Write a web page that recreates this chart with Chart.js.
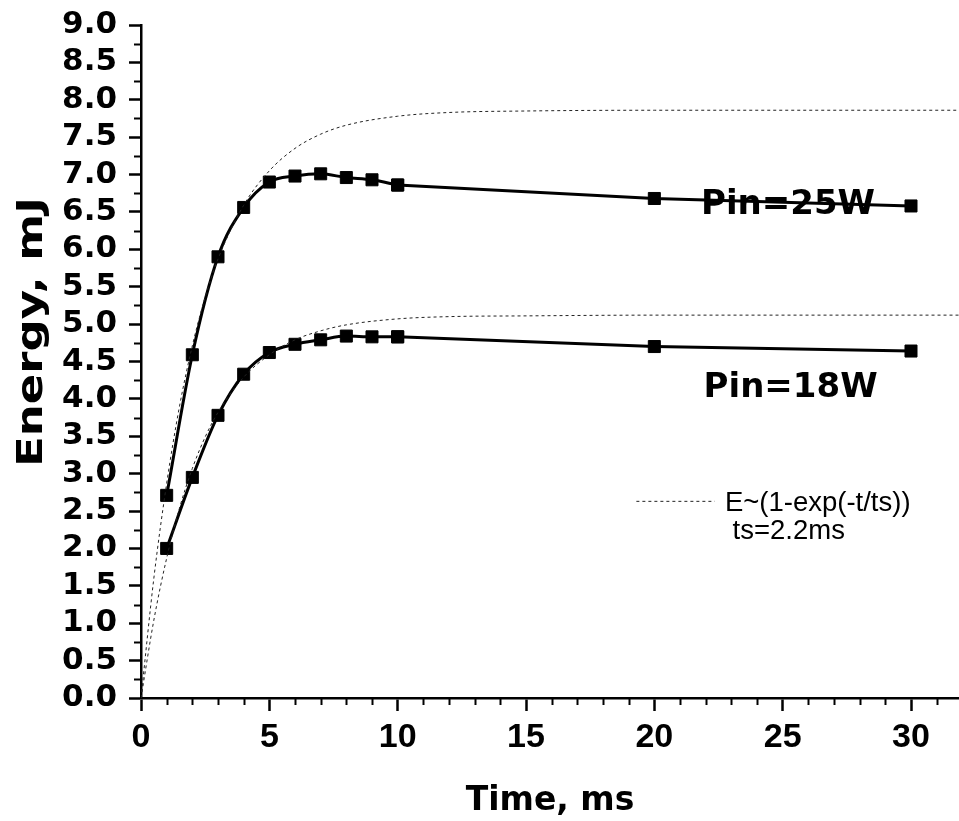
<!DOCTYPE html>
<html><head><meta charset="utf-8">
<script src="https://cdn.jsdelivr.net/npm/chart.js@4/dist/chart.umd.min.js"></script>
<style>html,body{margin:0;padding:0;background:#fff}#wrap{width:959px;height:821px}</style>
</head><body><div id="wrap"><canvas id="c" width="959" height="821"></canvas></div>
<script>
// ---- data ----
const times    = [1, 2, 3, 4, 5, 6, 7, 8, 9, 10, 20, 30];
const energy25 = [2.71, 4.59, 5.90, 6.56, 6.90, 6.98, 7.01, 6.96, 6.93, 6.86, 6.68, 6.58];
const energy18 = [2.00, 2.95, 3.78, 4.33, 4.62, 4.73, 4.79, 4.84, 4.83, 4.83, 4.70, 4.64];

const fitTimes = [0, 0.5, 1, 1.5, 2, 2.5, 3, 4, 5, 6, 7, 8, 10, 12, 15, 20, 31.9];
const fit25    = [0, 1.60, 2.87, 3.90, 4.71, 5.36, 5.87, 6.59, 7.05, 7.35, 7.54, 7.66, 7.78, 7.83, 7.85, 7.86, 7.86];
const fit18    = [0, 1.04, 1.87, 2.54, 3.07, 3.49, 3.82, 4.29, 4.59, 4.79, 4.91, 4.99, 5.07, 5.10, 5.11, 5.12, 5.12];

const xTickValues = [0, 5, 10, 15, 20, 25, 30];
const xTickLabels = ['0', '5', '10', '15', '20', '25', '30'];
const yTickValues = [0, 0.5, 1, 1.5, 2, 2.5, 3, 3.5, 4, 4.5, 5, 5.5, 6, 6.5, 7, 7.5, 8, 8.5, 9];
const yTickLabels = ['0.0','0.5','1.0','1.5','2.0','2.5','3.0','3.5','4.0','4.5','5.0','5.5','6.0','6.5','7.0','7.5','8.0','8.5','9.0'];

const seriesLabels = ['Pin=25W', 'Pin=18W'];
const legendLines = ['E~(1-exp(-t/ts))', 'ts=2.2ms'];
const xTitle = 'Time, ms';
const yTitle = 'Energy, mJ';

const pts = (xs, ys) => xs.map((x, i) => ({x, y: ys[i]}));
const SPLIT = 10; // index of t=10: smooth curve before, straight segments after

const decor = {
  id: 'decor',
  afterDraw(chart) {
    const ctx = chart.ctx, xs = chart.scales.x, ys = chart.scales.y;
    ctx.save();
    ctx.strokeStyle = '#000';
    ctx.lineWidth = 2;
    // minor ticks
    for (let v = 1; v <= 31; v++) {
      if (v % 5 === 0) continue;
      const px = Math.round(xs.getPixelForValue(v)) + 0.5;
      ctx.beginPath(); ctx.moveTo(px, ys.bottom); ctx.lineTo(px, ys.bottom + 7); ctx.stroke();
    }
    for (let k = 1; k < 36; k += 2) {
      const py = Math.round(ys.getPixelForValue(k * 0.25)) + 0.5;
      ctx.beginPath(); ctx.moveTo(xs.left, py); ctx.lineTo(xs.left - 7, py); ctx.stroke();
    }
    // series labels
    ctx.fillStyle = '#000';
    ctx.textBaseline = 'alphabetic';
    ctx.textAlign = 'right';
    ctx.font = 'bold 34px "DejaVu Sans"';
    ctx.fillText(seriesLabels[0], xs.getPixelForValue(28.6), ys.getPixelForValue(6.47));
    ctx.fillText(seriesLabels[1], xs.getPixelForValue(28.7), ys.getPixelForValue(4.02));
    ctx.textAlign = 'left';
    // legend for fit
    ctx.lineWidth = 1;
    ctx.setLineDash([3, 3]);
    ctx.strokeStyle = '#222';
    const ly = ys.getPixelForValue(2.63);
    ctx.beginPath(); ctx.moveTo(xs.getPixelForValue(19.3), ly); ctx.lineTo(xs.getPixelForValue(22.35), ly); ctx.stroke();
    ctx.setLineDash([]);
    ctx.font = '27.5px "Liberation Sans"';
    ctx.fillText(legendLines[0], xs.getPixelForValue(22.75), ys.getPixelForValue(2.50));
    ctx.fillText(legendLines[1], xs.getPixelForValue(23.05), ys.getPixelForValue(2.13));
    // axis titles
    ctx.font = 'bold 33px "DejaVu Sans"';
    ctx.textAlign = 'center';
    ctx.fillText(xTitle, (xs.left + xs.right) / 2, 810);
    ctx.save();
    ctx.translate(42, 332);
    ctx.rotate(-Math.PI / 2);
    ctx.scale(1.25, 1);
    ctx.font = 'bold 36px "DejaVu Sans"';
    ctx.fillText(yTitle, 0, 0);
    ctx.restore();
    ctx.restore();
  }
};

const solid = { borderColor: '#000', borderWidth: 3, pointStyle: 'rect', pointRadius: 8.5, pointBackgroundColor: '#000', pointBorderColor: '#000', pointBorderWidth: 1, fill: false };
const dotted = { borderColor: '#222', borderWidth: 1, borderDash: [3, 3], pointRadius: 0, cubicInterpolationMode: 'monotone', fill: false };

new Chart(document.getElementById('c'), {
  type: 'line',
  data: {
    datasets: [
      Object.assign({ data: pts(fitTimes, fit25) }, dotted),
      Object.assign({ data: pts(fitTimes, fit18) }, dotted),
      Object.assign({ data: pts(times.slice(SPLIT - 1), energy25.slice(SPLIT - 1)), tension: 0 }, solid),
      Object.assign({ data: pts(times.slice(SPLIT - 1), energy18.slice(SPLIT - 1)), tension: 0 }, solid),
      Object.assign({ data: pts(times.slice(0, SPLIT), energy25.slice(0, SPLIT)), cubicInterpolationMode: 'monotone' }, solid),
      Object.assign({ data: pts(times.slice(0, SPLIT), energy18.slice(0, SPLIT)), cubicInterpolationMode: 'monotone' }, solid)
    ]
  },
  options: {
    responsive: false,
    animation: false,
    layout: { autoPadding: false, padding: { left: 0, right: 0, top: 25, bottom: 0 } },
    plugins: { legend: { display: false }, tooltip: { enabled: false } },
    scales: {
      x: {
        type: 'linear', min: 0, max: 31.87,
        afterBuildTicks: s => { s.ticks = xTickValues.map(v => ({value: v})); },
        afterFit: s => { s.height = 123; s.paddingRight = 0; s.paddingLeft = 0; },
        ticks: { callback: (v, i) => xTickLabels[i], autoSkip: false, maxRotation: 0, color: '#000', padding: 6,
                 font: { family: 'Liberation Sans', weight: 'bold', size: 34 } },
        grid: { drawOnChartArea: false, drawTicks: true, tickLength: 13, tickWidth: 2.5, tickColor: '#000' },
        border: { display: true, color: '#000', width: 2.5 }
      },
      y: {
        type: 'linear', min: 0, max: 9,
        afterBuildTicks: s => { s.ticks = yTickValues.map(v => ({value: v})); },
        afterFit: s => { s.width = 141; s.paddingTop = 0; s.paddingBottom = 0; },
        ticks: { callback: (v, i) => yTickLabels[i], autoSkip: false, color: '#000', padding: 12,
                 font: { family: 'DejaVu Sans', weight: 'bold', size: 31 } },
        grid: { drawOnChartArea: false, drawTicks: true, tickLength: 12, tickWidth: 2.5, tickColor: '#000' },
        border: { display: true, color: '#000', width: 2.5 }
      }
    }
  },
  plugins: [decor]
});
</script>
</body></html>
